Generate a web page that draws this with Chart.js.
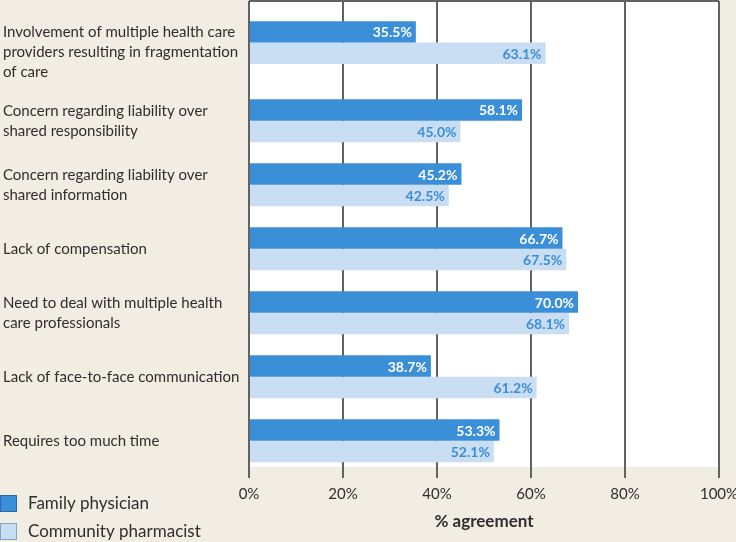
<!DOCTYPE html>
<html>
<head>
<meta charset="utf-8">
<script src="https://cdn.jsdelivr.net/npm/chart.js"></script>
<style>
  html, body { margin: 0; padding: 0; background: #f2ede2; }
  #wrap { width: 736px; height: 542px; position: relative; }
</style>
</head>
<body>
<div id="wrap"><canvas id="barrierChart"></canvas></div>
<script>
const categories = [
  ["Involvement of multiple health care", "providers resulting in fragmentation", "of care"],
  ["Concern regarding liability over", "shared responsibility"],
  ["Concern regarding liability over", "shared information"],
  ["Lack of compensation"],
  ["Need to deal with multiple health", "care professionals"],
  ["Lack of face-to-face communication"],
  ["Requires too much time"]
];
const familyPhysician = [35.5, 58.1, 45.2, 66.7, 70.0, 38.7, 53.3];
const communityPharmacist = [63.1, 45.0, 42.5, 67.5, 68.1, 61.2, 52.1];
const xTicks = [0, 20, 40, 60, 80, 100];

const DARK = "#3b8ed8";
const LIGHT = "#c9ddf3";
const GRID = "#626262";
const TEXT = "#2e2e2e";
const FONT = "Lato, 'Open Sans', sans-serif";

// rows with a three-line label get a bit more room below them
const EXTRA_ROOM = 0.22;
const rowPos = [];
categories.forEach((lines, i) => {
  rowPos.push(i === 0 ? 0 : rowPos[i - 1] + 1 + (categories[i - 1].length > 2 ? EXTRA_ROOM : 0));
});

const toPoints = (arr) => arr.map((v, i) => ({ x: v, y: rowPos[i] }));

// white plot panel with a thin top border
const panelPlugin = {
  id: "panel",
  beforeDraw(chart) {
    const { ctx, chartArea: a } = chart;
    ctx.save();
    ctx.fillStyle = "#ffffff";
    ctx.fillRect(a.left, a.top, a.right - a.left, a.bottom - a.top);
    ctx.strokeStyle = GRID;
    ctx.lineWidth = 2;
    ctx.beginPath();
    ctx.moveTo(a.left, a.top);
    ctx.lineTo(a.right, a.top);
    ctx.stroke();
    ctx.restore();
  }
};

// value labels at the end of each bar
const valueLabels = {
  id: "valueLabels",
  afterDatasetsDraw(chart) {
    const { ctx } = chart;
    ctx.save();
    ctx.font = "bold 14px " + FONT;
    ctx.textAlign = "right";
    ctx.textBaseline = "middle";
    chart.data.datasets.forEach((ds, di) => {
      const meta = chart.getDatasetMeta(di);
      ctx.fillStyle = di === 0 ? "#ffffff" : DARK;
      meta.data.forEach((bar, i) => {
        ctx.fillText(ds.data[i].x.toFixed(1) + "%", bar.x - 4, bar.y + 1);
      });
    });
    ctx.restore();
  }
};

// legend stacked in the bottom-left corner
const cornerLegend = {
  id: "cornerLegend",
  afterDraw(chart) {
    const { ctx, chartArea: a } = chart;
    ctx.save();
    ctx.font = "17px " + FONT;
    ctx.textBaseline = "middle";
    ctx.textAlign = "left";
    chart.data.datasets.forEach((ds, i) => {
      const top = a.bottom + 28 + i * 28;
      ctx.fillStyle = ds.backgroundColor;
      ctx.fillRect(0, top, 17, 17);
      ctx.strokeStyle = ds.legendBorder;
      ctx.lineWidth = 1;
      ctx.strokeRect(0.5, top + 0.5, 16, 16);
      ctx.fillStyle = TEXT;
      ctx.fillText(ds.label, 28, top + 9);
    });
    ctx.restore();
  }
};

new Chart(document.getElementById("barrierChart"), {
  type: "bar",
  data: {
    datasets: [
      {
        label: "Family physician",
        data: toPoints(familyPhysician),
        backgroundColor: DARK,
        legendBorder: "#2a6aa6"
      },
      {
        label: "Community pharmacist",
        data: toPoints(communityPharmacist),
        backgroundColor: LIGHT,
        legendBorder: "#7fa6cf"
      }
    ]
  },
  options: {
    indexAxis: "y",
    responsive: true,
    maintainAspectRatio: false,
    animation: false,
    categoryPercentage: 0.67,
    barPercentage: 1,
    layout: { padding: { left: 3, right: 17, top: 1, bottom: 0 } },
    plugins: {
      legend: { display: false },
      tooltip: { enabled: false }
    },
    scales: {
      x: {
        type: "linear",
        min: 0,
        max: 100,
        afterBuildTicks: (scale) => {
          scale.ticks = xTicks.map((v) => ({ value: v }));
        },
        afterFit: (scale) => {
          scale.height = 75;
          scale.paddingLeft = 0;
          scale.paddingRight = 0;
        },
        border: { display: false },
        grid: {
          color: GRID,
          lineWidth: 2,
          tickLength: 11,
          drawTicks: true
        },
        ticks: {
          color: TEXT,
          padding: 7,
          autoSkip: false,
          maxRotation: 0,
          font: { family: FONT, size: 15 },
          callback: (v) => v + "%"
        },
        title: {
          display: true,
          text: "% agreement",
          color: TEXT,
          font: { family: FONT, size: 17, weight: "bold" },
          padding: { top: 0, bottom: 10 }
        }
      },
      y: {
        type: "linear",
        reverse: true,
        offset: false,
        min: -0.65,
        max: rowPos[rowPos.length - 1] + 0.41,
        afterBuildTicks: (scale) => {
          scale.ticks = rowPos.map((p) => ({ value: p }));
        },
        afterFit: (scale) => {
          scale.width = 246;
          scale.paddingTop = 0;
          scale.paddingBottom = 0;
        },
        border: { display: false },
        grid: { display: false, offset: false },
        ticks: {
          crossAlign: "far",
          autoSkip: false,
          color: TEXT,
          font: { family: FONT, size: 15, lineHeight: 1.33 },
          // three-line label sits a little lower in the original
          callback: (v) => {
            const lines = categories[rowPos.indexOf(v)] || [];
            return lines.length > 2 ? [""].concat(lines) : lines;
          }
        }
      }
    }
  },
  plugins: [panelPlugin, valueLabels, cornerLegend]
});
</script>
</body>
</html>
